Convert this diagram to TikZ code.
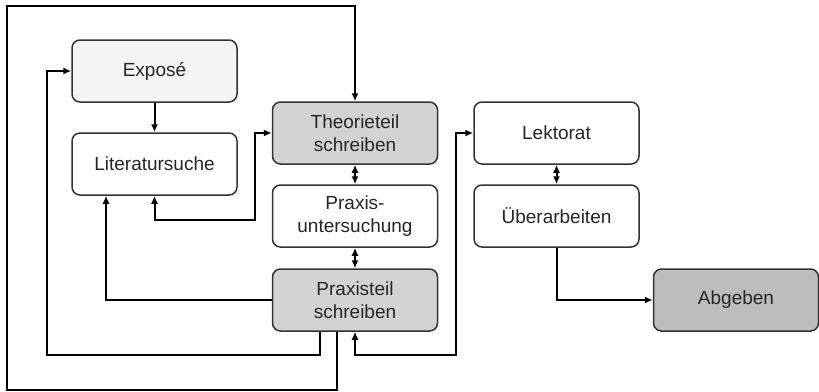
\documentclass[tikz,border=0pt]{standalone}
\usepackage{fontspec}
\setmainfont{Liberation Sans}
\usetikzlibrary{arrows.meta}
\definecolor{boxline}{HTML}{333333}
\definecolor{light}{HTML}{F5F5F5}
\definecolor{mid}{HTML}{D3D3D3}
\definecolor{dark}{HTML}{BDBDBD}

\begin{document}
\begin{tikzpicture}[x=0.5pt, y=-0.5pt,
  every node/.style={font=\fontsize{9.5}{11.5}\selectfont, align=center, text=black!85},
  stage/.style={draw=boxline, line width=0.75pt, rounded corners=4pt, fill=white, minimum width=82.5pt, minimum height=31pt, inner sep=1pt},
  link/.style={line width=1pt, -{Latex[length=4pt,width=3.5pt]}},
  both/.style={line width=1pt, {Latex[length=4pt,width=3.5pt]}-{Latex[length=4pt,width=3.5pt]}}]
  \useasboundingbox (0,0) rectangle (819,391);

  % left column
  \node[stage, fill=light] (expose) at (154.5,71) {Exposé};
  \node[stage] (litsuche) at (154.5,164) {Literatursuche};

  % middle column
  \node[stage, fill=mid] (theorie) at (355,133) {Theorieteil\\schreiben};
  \node[stage] (praxisunt) at (355,216) {Praxis-\\untersuchung};
  \node[stage, fill=mid] (praxisteil) at (355,300) {Praxisteil\\schreiben};

  % right column
  \node[stage] (lektorat) at (556.5,133) {Lektorat};
  \node[stage] (ueberarb) at (556.5,216) {Überarbeiten};
  \node[stage, fill=dark] (abgeben) at (736,300) {Abgeben};

  % bends of the long loops
  \coordinate (bendlit) at (255,220);
  \coordinate (loopexp) at (47,355);
  \coordinate (loopout) at (7,390);
  \coordinate (looptop) at (355,6);
  \coordinate (looplek) at (456,355);

  % connectors
  \draw[link] (expose.south) -- (litsuche.north);
  \draw[both] (litsuche.south) |- (bendlit) |- (theorie.west);
  \draw[both] (theorie.south) -- (praxisunt.north);
  \draw[both] (praxisunt.south) -- (praxisteil.north);
  \draw[link] (praxisteil.west) -| ([xshift=-24.25pt]litsuche.south);
  \draw[link] ([xshift=-17.5pt]praxisteil.south) |- (loopexp) |- (expose.west);
  \draw[link] ([xshift=-9pt]praxisteil.south) |- (loopout) |- (looptop) -- (theorie.north);
  \draw[both] (praxisteil.south) |- (looplek) |- (lektorat.west);
  \draw[both] (lektorat.south) -- (ueberarb.north);
  \draw[link] (ueberarb.south) |- (abgeben.west);
\end{tikzpicture}
\end{document}
